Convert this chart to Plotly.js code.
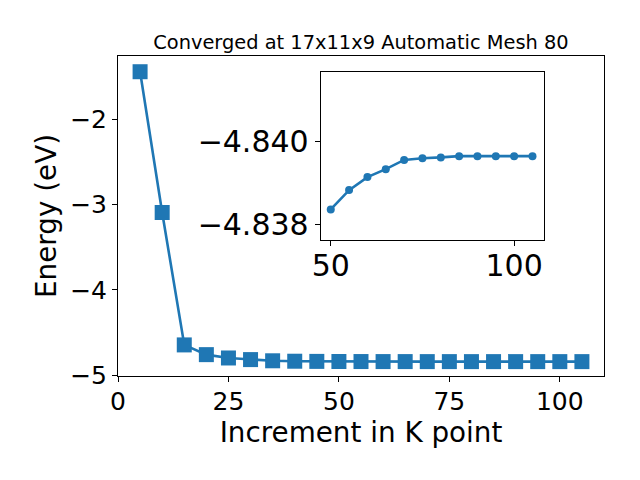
<!DOCTYPE html>
<html>
<head>
<meta charset="utf-8">
<script src="https://cdn.plot.ly/plotly-3.0.1.min.js"></script>
<style>html,body{margin:0;padding:0;background:#fff}</style>
</head>
<body>
<div id="chart" style="width:640px;height:480px"></div>
<script>
const kPoints = [5,10,15,20,25,30,35,40,45,50,55,60,65,70,75,80,85,90,95,100,105];
const energy = [-1.446,-3.094,-4.644,-4.758,-4.797,-4.816,-4.830,-4.835,-4.837,
  -4.83837,-4.83883,-4.83914,-4.83933,-4.83955,-4.83959,-4.83961,-4.83964,-4.83964,-4.83964,-4.83964,-4.83964];
const insetK = [50,55,60,65,70,75,80,85,90,95,100,105];
const insetE = [-4.83837,-4.83883,-4.83914,-4.83933,-4.83955,-4.83959,-4.83961,-4.83964,-4.83964,-4.83964,-4.83964,-4.83964];
const mainXTicks = [0,25,50,75,100];
const mainYTicks = [-5,-4,-3,-2];
const insetXTicks = [50,100];
const insetYTicks = [-4.840,-4.838];
const insetYLabels = ['\u22124.840','\u22124.838'];

const blue = '#1f77b4';
const font = 'DejaVu Sans, sans-serif';
function ax(size){ return {
  showline:true, mirror:true, linecolor:'#000', linewidth:1,
  ticks:'outside', ticklen:5, tickwidth:1, tickcolor:'#000',
  showgrid:false, zeroline:false,
  tickfont:{family:font, size:size, color:'#000'}
};}
const traces = [
  {x:kPoints, y:energy, type:'scatter', mode:'lines+markers',
   line:{color:blue, width:2.6}, marker:{symbol:'square', size:15, color:blue},
   xaxis:'x', yaxis:'y'},
  {x:insetK, y:insetE, type:'scatter', mode:'lines+markers',
   line:{color:blue, width:2.6}, marker:{symbol:'circle', size:8, color:blue},
   xaxis:'x2', yaxis:'y2'}
];
const layout = {
  width:640, height:480,
  margin:{l:118, r:36, t:56, b:104},
  paper_bgcolor:'#fff', plot_bgcolor:'#fff',
  showlegend:false,
  font:{family:font, color:'#000'},
  title:{text:'Converged at 17x11x9 Automatic Mesh 80', font:{family:font, size:19.4, color:'#000'},
    x:0.564, xanchor:'center', y:0.912, yanchor:'middle'},
  xaxis:Object.assign(ax(25), {range:[0,110], tickvals:mainXTicks, ticktext:mainXTicks.map(String),
    domain:[0,1], anchor:'y', ticklabelstandoff:-2,
    title:{text:'Increment in K point', font:{family:font, size:27.8, color:'#000'}, standoff:0}}),
  yaxis:Object.assign(ax(25), {range:[-5.008,-1.262], tickvals:mainYTicks,
    ticktext:mainYTicks.map(v=>'\u2212'+Math.abs(v)), domain:[0,1], anchor:'x',
    title:{text:'Energy (eV)', font:{family:font, size:27.8, color:'#000'}, standoff:5}}),
  xaxis2:Object.assign(ax(30), {range:[47.25,108.2], tickvals:insetXTicks, ticktext:insetXTicks.map(String),
    domain:[0.417,0.877], anchor:'y2', ticklabelstandoff:-6}),
  yaxis2:Object.assign(ax(30), {range:[-4.83764,-4.84164], tickvals:insetYTicks, ticktext:insetYLabels,
    domain:[0.425,0.949], anchor:'x2'})
};
Plotly.newPlot('chart', traces, layout, {staticPlot:true});
</script>
</body>
</html>
